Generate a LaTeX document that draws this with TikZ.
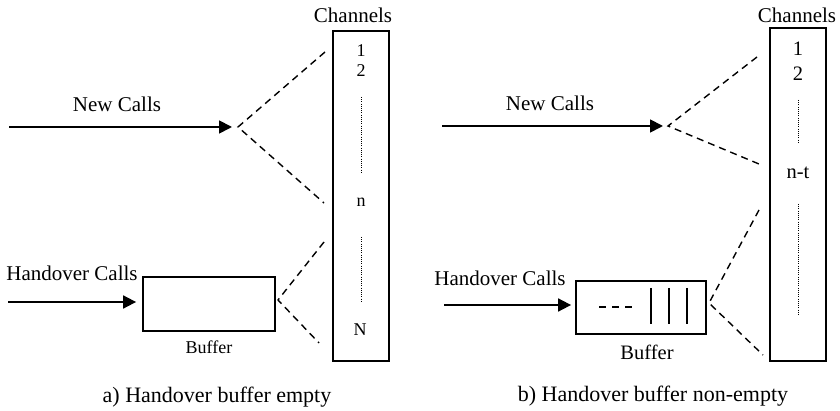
\documentclass[tikz,border=0pt]{standalone}
\usepackage{fontspec}
\setmainfont{Liberation Serif}
\usetikzlibrary{arrows.meta}
\begin{document}
\begin{tikzpicture}[x=1pt,y=-1pt,
  lbl/.style={inner sep=0pt,font=\fontsize{21}{24}\selectfont},
  small/.style={inner sep=0pt,font=\fontsize{18}{21}\selectfont},
  mid/.style={inner sep=0pt,font=\fontsize{20.5}{23}\selectfont},
  captext/.style={inner sep=0pt,font=\fontsize{22}{25}\selectfont},
  box/.style={draw,line width=1.8pt,inner sep=0pt},
  arr/.style={line width=1.8pt,-{Triangle[length=13pt,width=13pt]}},
  dashline/.style={line width=1.4pt,dash pattern=on 7pt off 5pt},
  dotline/.style={line width=1pt,dash pattern=on 1pt off 1.2pt}]
\useasboundingbox (0,0) rectangle (840,411);
% ---------- panel a ----------
\node[box,minimum width=56pt,minimum height=330pt] (chA) at (361,196) {};
\node[box,minimum width=132pt,minimum height=54pt] (bufA) at (209,304) {};
\node[lbl] (chanA) at (353,15) {Channels};
\node[small] (a1) at (361,51) {1};
\node[small] (a2) at (361,71) {2};
\node[small] (an) at (361,202) {n};
\node[small] (aN) at (360,330) {N};
\node[lbl] (newA) at (117,104) {New Calls};
\node[lbl] (hoA) at (72,273) {Handover Calls};
\node[small] (bA) at (209,347) {Buffer};
\node[captext] (capA) at (217,397) {a) Handover buffer empty};
\coordinate (nsA) at (9,127);
\coordinate (neA) at (232,127);
\coordinate (nfA) at (238,127);
\coordinate (c1A) at (325,52);
\coordinate (c2A) at (324,203);
\coordinate (hsA) at (8,302);
\coordinate (bfA) at (278,300);
\coordinate (c3A) at (324,242);
\coordinate (c4A) at (319,343);
\coordinate (d1s) at (361,97);
\coordinate (d1e) at (361,173);
\coordinate (d2s) at (361,237);
\coordinate (d2e) at (361,303);
\draw[arr] (nsA) -- (neA);
\draw[dashline] (c1A) -- (nfA) -- (c2A);
\draw[arr,shorten >=6pt] (hsA) -- (hsA -| bufA.west);
\draw[dashline] (c3A) -- (bfA) -- (c4A);
\draw[dotline] (d1s) -- (d1e);
\draw[dotline] (d2s) -- (d2e);
% ---------- panel b ----------
\node[box,minimum width=56pt,minimum height=333pt] (chB) at (798,194.5) {};
\node[box,minimum width=130pt,minimum height=53pt] (bufB) at (641,307.5) {};
\node[lbl] (chanB) at (797,15) {Channels};
\node[mid] (b1) at (798,49) {1};
\node[mid] (b2) at (798,74) {2};
\node[mid] (bnt) at (798,173) {n-t};
\node[lbl] (newB) at (550,103) {New Calls};
\node[lbl] (hoB) at (500,278) {Handover Calls};
\node[mid] (bB) at (647,352) {Buffer};
\node[captext] (capB) at (653,396) {b) Handover buffer non-empty};
\coordinate (nsB) at (442,126);
\coordinate (neB) at (663,126);
\coordinate (nfB) at (668,126);
\coordinate (c1B) at (757,57);
\coordinate (c2B) at (759,164);
\coordinate (hsB) at (444,305);
\coordinate (bfB) at (709,303);
\coordinate (c3B) at (759,210);
\coordinate (c4B) at (763,355);
\coordinate (e1s) at (798,100);
\coordinate (e1e) at (798,144);
\coordinate (e2s) at (798,204);
\coordinate (e2e) at (798,315);
\coordinate (qs) at (599,307);
\coordinate (qe) at (632,307);
\draw[arr] (nsB) -- (neB);
\draw[dashline] (c1B) -- (nfB) -- (c2B);
\draw[arr,shorten >=4pt] (hsB) -- (hsB -| bufB.west);
\draw[dashline] (c3B) -- (bfB) -- (c4B);
\draw[dotline] (e1s) -- (e1e);
\draw[dotline] (e2s) -- (e2e);
\draw[line width=1.4pt,dash pattern=on 7pt off 6pt] (qs) -- (qe);
\foreach \x in {651,669,687} \draw[line width=1.8pt] (\x,288) -- (\x,324);
\end{tikzpicture}
\end{document}
